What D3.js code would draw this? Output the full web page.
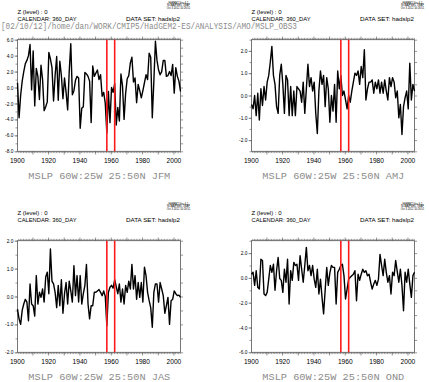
<!DOCTYPE html>
<html>
<head>
<meta charset="utf-8">
<script src="https://cdn.jsdelivr.net/npm/d3@7"></script>
<style>
body { margin: 0; background: #fff; }
svg { display: block; }
</style>
</head>
<body>
<div id="chart"></div>
<script>
// MSLP anomalies 60W:25W 25:50N, one value per year (1900-2004)
var firstYear = 1900;
var lastYear = 2004;
var years = d3.range(firstYear, lastYear + 1);

var jfm = [0.6, -3.8, -1.0, 0.8, 2.0, 3.0, 3.4, 4.0, 5.4, -0.3,
  4.6, -2.3, 2.4, 1.4, -1.5, 2.8, 1.0, -2.9, -2.4, -1.8,
  4.4, 3.6, 2.5, -1.7, 1.5, 3.9, -1.6, 3.3, 1.5, -1.4,
  1.2, -0.6, -2.8, 2.0, 5.5, -0.9, -0.4, 0.9, 1.4, 1.2,
  -5.1, -2.6, -2.4, 1.9, 1.7, 1.4, 0.8, -4.4, 2.7, 1.4,
  1.8, 2.2, 1.0, 1.6, -1.1, -0.6, -2.0, -5.7, -0.5, -4.4,
  0.0, -0.6, 0.5, -4.7, -2.5, -4.2, 1.7, 0.2, -4.0, -0.7,
  1.1, 1.5, 3.1, 3.8, 0.7, 1.2, -1.9, 0.4, -0.4, -1.3,
  -0.4, 0.6, 1.6, 1.0, 4.3, 3.8, -3.8, 0.8, 5.8, 3.4,
  2.2, 1.6, 2.0, 3.4, 3.4, 1.4, 1.5, 2.0, 1.5, 2.9,
  -0.7, 2.5, 1.4, 0.8, -0.5];

var amj = [-0.4, -0.6, 0.0, -0.9, 0.1, -1.1, 0.3, -0.45, 0.4, -0.2,
  0.6, 0.9, 1.5, 2.2, 0.9, 0.5, -0.5, -0.8, 0.9, 1.4,
  0.5, -0.8, 0.9, 0.7, -0.9, 0.4, -0.9, 0.2, -0.9, 0.4,
  0.3, 0.2, -0.3, 0.6, -0.8, 0.3, 1.4, 0.4, 0.8, 0.2,
  0.6, -0.8, -1.7, 0.2, 1.1, 0.5, 0.9, -0.5, 0.8, 0.3,
  -1.2, 0.0, -0.7, 0.5, -1.2, 1.1, 0.3, 0.9, 0.0, 0.2,
  -0.2, -0.6, 0.0, -0.3, 0.2, 0.6, 1.0, 0.9, 1.1, 0.5,
  1.3, 0.8, 2.05, -0.2, 0.3, 0.6, 0.6, 0.7, 0.1, 0.6,
  0.3, 0.7, 0.1, 0.6, 0.1, 0.7, 0.2, -0.2, 0.8, 0.4,
  0.8, 0.6, -0.1, 0.2, -1.0, -0.4, -1.75, -0.5, -0.1, 0.2,
  -0.6, 1.45, -0.2, 0.5, 0.2];

var jas = [-0.45, -0.8, -1.0, -0.5, -0.27, -0.1, -0.2, -0.87, 0.45, -0.27,
  -0.33, -0.7, 0.75, -0.27, 0.15, -0.03, 0.27, -0.2, 0.7, 0.87,
  0.1, 1.7, 0.55, 0.45, 0.15, -0.4, 0.4, -0.33, 0.6, -0.6,
  0.1, 0.5, -0.27, 0.55, 0.2, -0.2, 1.1, 0.03, 0.75, -0.2,
  0.75, -0.27, 0.1, 0.4, 1.15, -0.27, -0.8, -0.33, -0.33, 0.15,
  0.15, 0.2, 0.25, 0.15, 0.03, 0.2, 0.0, -1.05, 0.15, 0.33,
  0.4, 0.3, 0.6, 0.35, 0.1, 0.45, -0.2, 0.27, -0.27, 0.4,
  0.15, 0.55, 0.27, 1.15, 0.27, 0.75, -0.1, 0.5, -0.03, 0.5,
  -0.2, 1.05, 0.75, 0.15, -0.15, -0.4, -1.1, 0.15, 0.45, 0.45,
  -0.2, 0.5, 0.27, 0.03, -0.6, -0.33, -0.03, -1.0, -0.15, -0.1,
  0.2, 0.1, 0.03, 0.05, -0.03];

var ond = [0.3, 0.45, -0.6, 0.58, -0.76, -0.9, 1.5, 1.4, -1.3, -1.43,
  -1.17, -0.1, 1.0, 0.45, 1.1, -1.0, 0.58, 1.65, -0.05, -0.2,
  -1.17, 0.7, -0.35, 1.5, -2.1, 0.58, -0.2, 1.25, 1.0, 1.1,
  -0.2, 1.8, 0.7, -0.35, 1.0, 2.46, 0.58, 1.0, 0.18, 1.0,
  -0.1, -0.76, 0.7, -1.3, -0.1, -1.57, -2.9, -1.0, 0.85, -0.6,
  0.4, 1.0, 0.85, 0.85, -2.1, 0.45, 0.7, 1.0, 1.1, 0.18,
  -1.7, -0.9, -0.1, 0.05, 0.18, 0.3, 0.58, -1.84, 0.3, -0.2,
  0.3, 0.7, 0.45, 0.58, 0.18, 0.3, -0.35, -0.9, -0.5, -0.2,
  -0.6, -0.1, 1.9, 1.0, 0.18, 1.5, 0.45, -0.35, 0.18, -1.3,
  0.45, 0.18, 1.4, 0.5, -0.35, 0.7, -0.6, -2.65, 0.45, -0.35,
  0.7, -0.5, -1.57, 0.18, 0.45];

var markYears = [1957, 1962];          // the two red verticals
var yearLabels = [1900, 1920, 1940, 1960, 1980, 2000];
var jfmLabels = [-8, -6, -4, -2, 0, 2, 4, 6];
var amjLabels = [-2, -1, 0, 1, 2];
var jasLabels = [-2, -1, 0, 1, 2];
var ondLabels = [-6, -4, -2, 0, 2];

var pathText = "[02/10/12]/home/dan/WORK/CMIP5/HadGEM2-ES/ANALYSIS/AMO/MSLP_OBS3";
var stamp = ["FERRET Ver. 6.1", "NOAA/PMEL TMAP", "Oct  3 2012 10:26:51"];

var width = 429, height = 382;
var plotW = 163, plotH = 111.6;

var panels = [
  {values: jfm, season: "JFM", lo: -8, hi: 6, labels: jfmLabels, step: 1, x0: 17.5, y0: 39.7},
  {values: amj, season: "AMJ", lo: -2.5, hi: 2.5, labels: amjLabels, step: 0.5, x0: 251.5, y0: 39.7},
  {values: jas, season: "JAS", lo: -2, hi: 2, labels: jasLabels, step: 0.5, x0: 17.5, y0: 240.7},
  {values: ond, season: "OND", lo: -6, hi: 3, labels: ondLabels, step: 1, x0: 251.5, y0: 240.7}
];

var svg = d3.select("#chart").append("svg")
  .attr("width", width)
  .attr("height", height);

// grey path line across the top
svg.append("text")
  .attr("x", 1).attr("y", 28.5)
  .attr("font-family", "Liberation Mono, monospace")
  .attr("font-size", 8.2)
  .attr("fill", "#8c8c8c")
  .attr("textLength", 296)
  .attr("lengthAdjust", "spacingAndGlyphs")
  .text(pathText);

var fmt = v => v.toFixed(1);

// clean up what d3.axis draws so it looks like the ferret frame
function styleAxis(g, size) {
  g.select(".domain").remove();
  g.selectAll("line").attr("stroke", "#555").attr("stroke-width", 0.6);
  g.attr("font-family", "Liberation Sans, Arial, sans-serif").attr("font-size", size);
  g.selectAll("text").attr("fill", "#000");
}

panels.forEach(function(p) {
  var g = svg.append("g").attr("transform", "translate(" + p.x0 + "," + p.y0 + ")");

  // data sit at mid-year, axis runs first to last point
  var x = d3.scaleLinear().domain([firstYear + 0.5, lastYear + 0.5]).range([0, plotW]);
  var y = d3.scaleLinear().domain([p.lo, p.hi]).range([plotH, 0]);

  var minorYears = d3.range(firstYear + 1, lastYear + 1);
  var decades = minorYears.filter(d => d % 10 == 0);
  var yMinor = d3.range(p.lo, p.hi + 1e-6, p.step);

  // header texts
  var h = g.append("g").attr("font-family", "Liberation Sans, Arial, sans-serif").attr("font-size", 5.6).attr("fill", "#000");
  h.append("text").attr("x", 0).attr("y", -25.4).attr("textLength", 30).attr("lengthAdjust", "spacingAndGlyphs").text("Z (level) : 0");
  h.append("text").attr("x", 0).attr("y", -18.7).attr("textLength", 59).attr("lengthAdjust", "spacingAndGlyphs").text("CALENDAR: 360_DAY");
  h.append("text").attr("x", 108.5).attr("y", -18.7).attr("textLength", 54).attr("lengthAdjust", "spacingAndGlyphs").text("DATA SET: hadslp2");

  g.append("g")
    .attr("font-family", "Liberation Sans, Arial, sans-serif")
    .attr("font-size", 2.6)
    .attr("text-anchor", "middle")
    .selectAll("text").data(stamp).enter().append("text")
    .attr("x", 161)
    .attr("y", (d, i) => -35.8 + i * 2.4)
    .text(d => d);

  // ticks
  g.append("g").attr("transform", "translate(0," + plotH + ")")
    .call(d3.axisBottom(x).tickValues(minorYears).tickSize(1.8).tickFormat(""))
    .call(a => styleAxis(a, 6));
  g.append("g").attr("transform", "translate(0," + plotH + ")")
    .call(d3.axisBottom(x).tickValues(decades).tickSize(3.2).tickFormat(""))
    .call(a => styleAxis(a, 6));
  g.append("g").attr("transform", "translate(0," + plotH + ")")
    .call(d3.axisBottom(x).tickValues(yearLabels).tickSize(0).tickPadding(7.4).tickFormat(d3.format("d")))
    .call(a => styleAxis(a, 6.6));

  g.append("g")
    .call(d3.axisTop(x).tickValues(minorYears).tickSize(1.8).tickFormat(""))
    .call(a => styleAxis(a, 6));
  g.append("g")
    .call(d3.axisTop(x).tickValues(decades).tickSize(3.2).tickFormat(""))
    .call(a => styleAxis(a, 6));

  g.append("g")
    .call(d3.axisLeft(y).tickValues(yMinor).tickSize(2).tickFormat(""))
    .call(a => styleAxis(a, 5));
  g.append("g")
    .call(d3.axisLeft(y).tickValues(p.labels).tickSize(3).tickPadding(1.2).tickFormat(fmt))
    .call(a => styleAxis(a, 4.8));
  g.append("g").attr("transform", "translate(" + plotW + ",0)")
    .call(d3.axisRight(y).tickValues(yMinor).tickSize(2.6).tickFormat(""))
    .call(a => styleAxis(a, 5));

  g.append("rect")
    .attr("width", plotW).attr("height", plotH)
    .attr("fill", "none").attr("stroke", "#555").attr("stroke-width", 0.8);

  var line = d3.line()
    .x((d, i) => x(years[i] + 0.5))
    .y(d => y(d));

  g.append("path")
    .datum(p.values)
    .attr("d", line)
    .attr("fill", "none")
    .attr("stroke", "#000")
    .attr("stroke-width", 1.4)
    .attr("stroke-linejoin", "round");

  g.selectAll(".mark").data(markYears).enter().append("line")
    .attr("class", "mark")
    .attr("x1", d => x(d + 0.5)).attr("x2", d => x(d + 0.5))
    .attr("y1", 0).attr("y2", plotH)
    .attr("stroke", "#ff1a1a")
    .attr("stroke-width", 1.6);

  g.append("text")
    .attr("x", 10.8).attr("y", plotH + 27.8)
    .attr("font-family", "Liberation Mono, monospace")
    .attr("font-size", 9.2)
    .attr("fill", "#8c8c8c")
    .attr("textLength", 142)
    .attr("lengthAdjust", "spacingAndGlyphs")
    .text("MSLP  60W:25W 25:50N " + p.season);
});
</script>
</body>
</html>
